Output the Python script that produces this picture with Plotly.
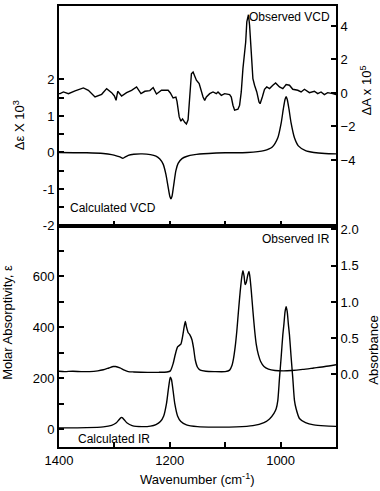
import plotly.graph_objects as go

# observed VCD (right axis, dA x 10^5)
obs_vcd_wn = [1400, 1398, 1392, 1383, 1371, 1356, 1347, 1335, 1323, 1314, 1305, 1300, 1297, 1294,
              1287, 1278, 1269, 1260, 1252, 1245, 1236, 1230, 1224, 1215, 1203, 1199, 1194, 1189,
              1187, 1183, 1180, 1177, 1173, 1170, 1167, 1164, 1161, 1158, 1155, 1152, 1147, 1143,
              1140, 1137, 1134, 1128, 1122, 1116, 1113, 1107, 1101, 1092, 1089, 1086, 1083, 1077,
              1074, 1071, 1068, 1063, 1061, 1058, 1056, 1053, 1050, 1047, 1043, 1039, 1037, 1033,
              1029, 1025, 1020, 1014, 1009, 1002, 996, 990, 984, 978, 969, 963, 957, 948, 939, 933,
              927, 921, 915, 906, 900]
obs_vcd = [-0.04, -0.04, 0.06, -0.04, 0.12, 0.3, 0.16, -0.24, -0.08, 0.26, 0.02, -0.18, -0.44, 0.1,
           -0.18, 0.02, 0.16, 0.36, -0.04, 0.1, 0.14, 0.32, -0.06, 0.16, 0.16, 0.0, -0.3, -0.25,
           -0.5, -1.43, -1.68, -1.55, -1.75, -1.85, -1.6, -0.3, 1.15, 1.25, 0.96, 0.76, 0.56, 0.06,
           -0.24, -0.44, -0.24, -0.04, 0.06, -0.04, 0.06, -0.14, -0.04, -0.1, -0.24, -0.73, -1.03, -0.97,
           -0.73, 0.06, 1.45, 3.04, 4.24, 4.67, 4.04, 2.45, 0.85, 0.46, 0.06, -0.54, -0.64, -0.24,
           0.22, 0.36, 0.26, 0.46, 0.6, 0.36, 0.26, 0.5, 0.46, 0.22, 0.16, 0.06, 0.22, 0.02, 0.1, -0.04,
           0.06, -0.1, 0.02, -0.04, -0.1]

# calculated VCD (left axis, delta-epsilon x 10^3)
calc_vcd_wn = [1400, 1350, 1320, 1305, 1295, 1289, 1285, 1281, 1275, 1265, 1250, 1235, 1225, 1218,
               1212, 1207, 1203, 1200, 1198, 1196, 1193, 1189, 1185, 1178, 1170, 1155, 1130, 1100,
               1060, 1030, 1015, 1005, 999, 995, 992, 990, 988, 985, 981, 975, 968, 955, 940, 920, 900]
calc_vcd = [0.0, -0.01, -0.03, -0.06, -0.1, -0.13, -0.16, -0.13, -0.08, -0.05, -0.04, -0.06, -0.1, -0.18,
            -0.32, -0.6, -0.95, -1.2, -1.27, -1.2, -0.9, -0.5, -0.3, -0.17, -0.11, -0.06, -0.03, -0.01,
            0.0, 0.05, 0.15, 0.4, 0.8, 1.2, 1.45, 1.53, 1.45, 1.2, 0.8, 0.4, 0.18, 0.05, 0.0, -0.03, -0.04]

# observed IR (right axis, absorbance)
obs_ir_wn = [1400, 1390, 1375, 1360, 1345, 1330, 1320, 1310, 1302, 1298, 1290, 1282, 1275, 1265,
             1240, 1220, 1205, 1199, 1194, 1190, 1186, 1183, 1180, 1177, 1174, 1172, 1170, 1167,
             1164, 1160, 1157, 1154, 1150, 1145, 1135, 1120, 1100, 1092, 1088, 1085, 1082, 1079,
             1076, 1073, 1070, 1068, 1066, 1064, 1062, 1059, 1057, 1055, 1053, 1050, 1047, 1044,
             1040, 1036, 1030, 1022, 1010, 995, 980, 960, 940, 920, 900]
obs_ir = [0.045, 0.04, 0.045, 0.04, 0.04, 0.05, 0.065, 0.09, 0.11, 0.11, 0.09, 0.06, 0.04, 0.035,
          0.03, 0.03, 0.035, 0.05, 0.15, 0.28, 0.38, 0.40, 0.42, 0.52, 0.66, 0.73, 0.66, 0.58,
          0.55, 0.48, 0.36, 0.2, 0.1, 0.06, 0.045, 0.04, 0.04, 0.06, 0.12, 0.22, 0.38, 0.6,
          0.88, 1.14, 1.35, 1.43, 1.36, 1.24, 1.27, 1.38, 1.42, 1.32, 1.16, 0.88, 0.62, 0.42,
          0.27, 0.18, 0.11, 0.075, 0.055, 0.05, 0.055, 0.07, 0.09, 0.11, 0.135]

# calculated IR (left axis, molar absorptivity)
calc_ir_wn = [1400, 1350, 1320, 1305, 1297, 1292, 1288, 1286, 1282, 1277, 1268, 1250, 1235, 1225,
              1217, 1211, 1206, 1203, 1200, 1199, 1197, 1194, 1191, 1186, 1180, 1170, 1150, 1120,
              1080, 1050, 1030, 1020, 1012, 1008, 1005, 1002, 999, 996, 994, 992, 990, 988, 986,
              984, 981, 978, 975, 972, 966, 955, 940, 920, 900]
calc_ir = [5, 6, 9, 15, 24, 36, 45, 45, 36, 24, 14, 10, 12, 18,
           30, 52, 100, 150, 195, 204, 195, 150, 100, 52, 30, 17, 10, 8,
           9, 14, 26, 40, 62, 80, 113, 200, 282, 370, 412, 460, 480, 460, 412,
           370, 282, 200, 113, 80, 42, 26, 17, 13, 11]

FONT = "Liberation Sans, Arial, sans-serif"
W, H = 380, 491
L, R, T, B = 59, 44, 3, 44
SPLIT = 224  # pixel row of the divider between panels


def px_to_paper(x, y):
    return (x - L) / (W - L - R), (H - B - y) / (H - T - B)


def _label(fig, text, x, y, angle=0, anchor="center", size=13):
    px_, py_ = px_to_paper(x, y)
    fig.add_annotation(text=text, x=px_, y=py_, xref="paper", yref="paper", showarrow=False,
                       textangle=angle, xanchor=anchor, yanchor="middle",
                       font={"family": FONT, "size": size, "color": "black"})


def build_figure() -> go.Figure:
    split = (H - B - SPLIT) / (H - T - B)
    line = {"color": "black", "width": 1.4}
    fig = go.Figure()
    fig.add_trace(go.Scatter(x=calc_vcd_wn, y=calc_vcd, xaxis="x2", yaxis="y", mode="lines",
                             line=dict(line, shape="spline", smoothing=0.6)))
    fig.add_trace(go.Scatter(x=obs_vcd_wn, y=obs_vcd, xaxis="x2", yaxis="y2", mode="lines", line=line))
    fig.add_trace(go.Scatter(x=calc_ir_wn, y=calc_ir, xaxis="x", yaxis="y3", mode="lines",
                             line=dict(line, shape="spline", smoothing=0.6)))
    fig.add_trace(go.Scatter(x=obs_ir_wn, y=obs_ir, xaxis="x", yaxis="y4", mode="lines",
                             line=dict(line, shape="spline", smoothing=0.6)))

    axis = dict(showline=True, linecolor="black", linewidth=2, ticks="inside", ticklen=5,
                tickwidth=1.5, tickcolor="black", showgrid=False, zeroline=False,
                tickfont={"family": FONT, "size": 13, "color": "black"})
    x_ticks = [1400, 1300, 1200, 1100, 1000, 900]
    x_text = ["1400", "", "1200", "", "1000", ""]
    fig.update_layout(
        width=W, height=H, margin={"l": L, "r": R, "t": T, "b": B},
        paper_bgcolor="white", plot_bgcolor="white", showlegend=False,
        xaxis=dict(axis, range=[1400, 900], anchor="y3", mirror=True,
                   tickvals=x_ticks, ticktext=x_text),
        xaxis2=dict(axis, range=[1400, 900], anchor="y", mirror=True, matches="x",
                    tickvals=x_ticks, showticklabels=False),
        yaxis=dict(axis, domain=[split, 1], range=[-2, 4.01], anchor="x2",
                   tickvals=[-2, -1.5, -1, -0.5, 0, 0.5, 1, 1.5, 2],
                   ticktext=["-2", "", "-1", "", "0", "", "1", "", "2"]),
        yaxis2=dict(axis, domain=[split, 1], range=[-7.91, 5.19], overlaying="y", side="right",
                    anchor="x2", tickvals=[-4, -2, 0, 2, 4]),
        yaxis3=dict(axis, domain=[0, split], range=[-70, 799], anchor="x",
                    tickvals=[0, 100, 200, 300, 400, 500, 600, 700],
                    ticktext=["0", "", "200", "", "400", "", "600", ""]),
        yaxis4=dict(axis, domain=[0, split], range=[-1.0, 2.055], overlaying="y3", side="right",
                    anchor="x", tickvals=[0, 0.5, 1.0, 1.5, 2.0],
                    ticktext=["0.0", "0.5", "1.0", "1.5", "2.0"]),
    )

    _label(fig, "Observed VCD", 332, 14, anchor="right", size=12)
    _label(fig, "Calculated VCD", 68, 206, anchor="left", size=12)
    _label(fig, "Observed IR", 332, 238, anchor="right", size=12)
    _label(fig, "Calculated IR", 76, 439, anchor="left", size=12)

    _label(fig, "Δε X 10<sup>3</sup>", 19, 123, angle=-90)
    _label(fig, "ΔA x 10<sup>5</sup>", 366, 88, angle=-90)
    _label(fig, "Molar Absorptivity, ε", 8, 322, angle=-90)
    _label(fig, "Absorbance", 374, 350, angle=-90)
    _label(fig, "Wavenumber (cm<sup>-1</sup>)", 197, 479)
    return fig


fig = build_figure()
# the page's default body margin would push the fixed-size figure off the window
fig.write_html("out.html", config={"displayModeBar": False},
               post_script="document.body.style.margin = '0';")
